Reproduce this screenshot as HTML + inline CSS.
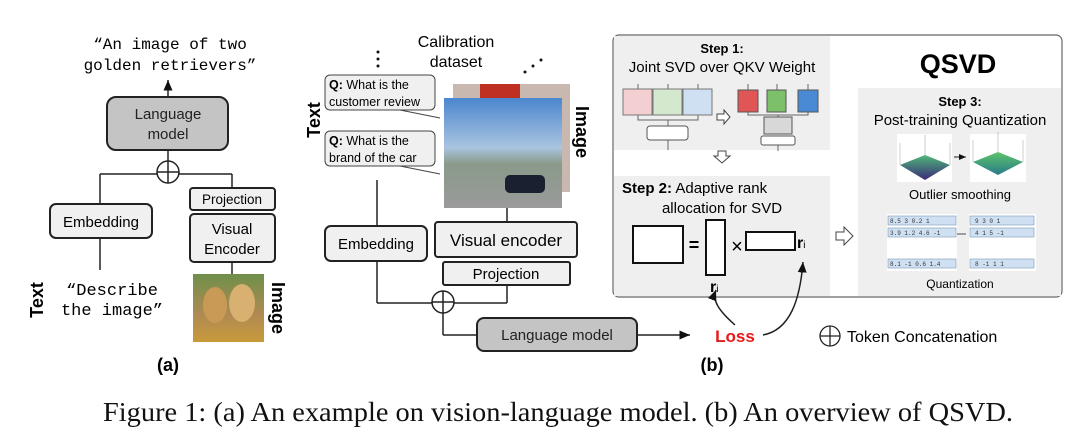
<!DOCTYPE html>
<html><head><meta charset="utf-8"><style>
html,body{margin:0;padding:0;background:#fff;}
svg{display:block;}
.s{font-family:"Liberation Sans",sans-serif;}
.m{font-family:"Liberation Mono",monospace;}
</style></head><body>
<svg width="1080" height="438" viewBox="0 0 1080 438" xmlns="http://www.w3.org/2000/svg">
<defs>
<marker id="ah" markerWidth="8" markerHeight="8" refX="7" refY="4" orient="auto"><path d="M0,1 L7,4 L0,7 z" fill="#111"/></marker>
<linearGradient id="dog" x1="0" y1="0" x2="0" y2="1"><stop offset="0" stop-color="#6f8f4a"/><stop offset="0.6" stop-color="#b08a52"/><stop offset="1" stop-color="#c89a3a"/></linearGradient>
<linearGradient id="sky" x1="0" y1="0" x2="0" y2="1"><stop offset="0" stop-color="#4b86cf"/><stop offset="0.45" stop-color="#a9c4e0"/><stop offset="0.6" stop-color="#8a9a8a"/><stop offset="1" stop-color="#9a9a9a"/></linearGradient>
<linearGradient id="surf1" x1="0" y1="0" x2="0" y2="1"><stop offset="0" stop-color="#4fb87a"/><stop offset="1" stop-color="#3a2a78"/></linearGradient>
<linearGradient id="surf2" x1="0" y1="0" x2="0" y2="1"><stop offset="0" stop-color="#5cc46a"/><stop offset="1" stop-color="#2a7a8a"/></linearGradient>
</defs>
<g stroke="#222" stroke-width="1.5" fill="none">
<line x1="168" y1="97" x2="168" y2="80" marker-end="url(#ah)"/>
<line x1="168" y1="150" x2="168" y2="162"/>
<line x1="100" y1="174" x2="232" y2="174"/>
<line x1="100" y1="174" x2="100" y2="204"/>
<line x1="232" y1="174" x2="232" y2="188"/>
<line x1="100" y1="238" x2="100" y2="270"/>
<line x1="232" y1="262" x2="232" y2="274"/>
<circle cx="168" cy="172" r="11" fill="#fff"/>
<line x1="157" y1="172" x2="179" y2="172"/><line x1="168" y1="161" x2="168" y2="183"/>
<line x1="377" y1="180" x2="377" y2="226"/>
<line x1="507" y1="208" x2="507" y2="222"/>
<line x1="377" y1="261" x2="377" y2="303"/>
<line x1="377" y1="303" x2="507" y2="303"/>
<line x1="507" y1="285" x2="507" y2="303"/>
<line x1="443" y1="303" x2="443" y2="335"/>
<line x1="443" y1="335" x2="477" y2="335"/>
<circle cx="443" cy="302" r="11" fill="#fff"/>
<line x1="432" y1="302" x2="454" y2="302"/><line x1="443" y1="291" x2="443" y2="313"/>
<line x1="638" y1="335" x2="690" y2="335" marker-end="url(#ah)"/>
</g>
<rect x="107" y="97" width="121" height="53" rx="9" fill="#c4c4c4" stroke="#222" stroke-width="2"/>
<text x="168" y="119" class="s" font-size="15" text-anchor="middle" fill="#222">Language</text>
<text x="168" y="139" class="s" font-size="15" text-anchor="middle" fill="#222">model</text>
<rect x="50" y="204" width="102" height="34" rx="6" fill="#f0f0f0" stroke="#222" stroke-width="2"/>
<text x="101" y="227" class="s" font-size="15" text-anchor="middle">Embedding</text>
<rect x="190" y="188" width="85" height="22" rx="3" fill="#f0f0f0" stroke="#222" stroke-width="2"/>
<text x="232" y="204" class="s" font-size="13.5" text-anchor="middle">Projection</text>
<rect x="190" y="214" width="85" height="48" rx="4" fill="#f0f0f0" stroke="#222" stroke-width="2"/>
<text x="232" y="234" class="s" font-size="15" text-anchor="middle">Visual</text>
<text x="232" y="254" class="s" font-size="15" text-anchor="middle">Encoder</text>
<text x="170" y="49" class="m" font-size="16" text-anchor="middle">“An image of two</text>
<text x="170" y="70" class="m" font-size="16" text-anchor="middle">golden retrievers”</text>
<text x="112" y="295" class="m" font-size="17" text-anchor="middle">“Describe</text>
<text x="112" y="315" class="m" font-size="17" text-anchor="middle">the image”</text>
<text transform="translate(43,300) rotate(-90)" class="s" font-size="18" font-weight="bold" text-anchor="middle">Text</text>
<rect x="193" y="274" width="71" height="68" fill="url(#dog)"/>
<ellipse cx="215" cy="305" rx="12" ry="18" fill="#c99a55"/><ellipse cx="242" cy="303" rx="13" ry="19" fill="#d8b070"/>
<text transform="translate(272,308) rotate(90)" class="s" font-size="18" font-weight="bold" text-anchor="middle">Image</text>
<text x="168" y="371" class="s" font-size="18" font-weight="bold" text-anchor="middle">(a)</text>
<text x="456" y="47" class="s" font-size="16" text-anchor="middle">Calibration</text>
<text x="456" y="67" class="s" font-size="16" text-anchor="middle">dataset</text>
<g fill="#111"><circle cx="378" cy="52" r="1.5"/><circle cx="378" cy="59" r="1.5"/><circle cx="378" cy="66" r="1.5"/>
<circle cx="525" cy="72" r="1.5"/><circle cx="533" cy="66" r="1.5"/><circle cx="541" cy="60" r="1.5"/></g>
<path d="M330,75 h100 a5,5 0 0 1 5,5 v25 a5,5 0 0 1 -5,5 h-100 a5,5 0 0 1 -5,-5 v-25 a5,5 0 0 1 5,-5z M400,110 L440,118" fill="#f0f0f0" stroke="#444" stroke-width="1"/>
<text x="329" y="89" class="s" font-size="12.5"><tspan font-weight="bold">Q:</tspan> What is the</text>
<text x="329" y="106" class="s" font-size="12.5">customer review</text>
<path d="M330,131 h100 a5,5 0 0 1 5,5 v25 a5,5 0 0 1 -5,5 h-100 a5,5 0 0 1 -5,-5 v-25 a5,5 0 0 1 5,-5z M400,166 L440,174" fill="#f0f0f0" stroke="#444" stroke-width="1"/>
<text x="329" y="145" class="s" font-size="12.5"><tspan font-weight="bold">Q:</tspan> What is the</text>
<text x="329" y="162" class="s" font-size="12.5">brand of the car</text>
<text transform="translate(320,120) rotate(-90)" class="s" font-size="18" font-weight="bold" text-anchor="middle">Text</text>
<rect x="453" y="84" width="117" height="108" fill="#c8b8b0"/>
<rect x="480" y="84" width="40" height="14" fill="#c03020"/>
<rect x="444" y="98" width="118" height="110" fill="url(#sky)"/>
<rect x="505" y="175" width="40" height="18" rx="5" fill="#1a2030"/>
<text transform="translate(576,132) rotate(90)" class="s" font-size="18" font-weight="bold" text-anchor="middle">Image</text>
<rect x="325" y="226" width="102" height="35" rx="6" fill="#f0f0f0" stroke="#222" stroke-width="2"/>
<text x="376" y="249" class="s" font-size="15" text-anchor="middle">Embedding</text>
<rect x="435" y="222" width="142" height="35" rx="3" fill="#f0f0f0" stroke="#222" stroke-width="2"/>
<text x="506" y="246" class="s" font-size="17" text-anchor="middle">Visual encoder</text>
<rect x="443" y="262" width="127" height="23" rx="2" fill="#f0f0f0" stroke="#222" stroke-width="2"/>
<text x="506" y="279" class="s" font-size="15" text-anchor="middle">Projection</text>
<rect x="477" y="318" width="160" height="33" rx="7" fill="#c4c4c4" stroke="#222" stroke-width="2"/>
<text x="557" y="340" class="s" font-size="15" text-anchor="middle" fill="#222">Language model</text>
<text x="735" y="342" class="s" font-size="17" font-weight="bold" fill="#e81818" text-anchor="middle">Loss</text>
<text x="712" y="371" class="s" font-size="18" font-weight="bold" text-anchor="middle">(b)</text>
<g stroke="#222" stroke-width="1.3" fill="none"><circle cx="830" cy="336" r="10"/><line x1="820" y1="336" x2="840" y2="336"/><line x1="830" y1="326" x2="830" y2="346"/></g>
<text x="847" y="342" class="s" font-size="16">Token Concatenation</text>
<rect x="613" y="35" width="449" height="262" rx="6" fill="#fff" stroke="#666" stroke-width="1.2"/>
<rect x="614" y="36" width="216" height="114" fill="#efefef"/>
<rect x="614" y="176" width="216" height="120" fill="#efefef"/>
<rect x="858" y="88" width="203" height="208" fill="#efefef"/>
<g stroke="#222" stroke-width="1.5" fill="none">
<path d="M735,325 C718,310 712,300 716,290" marker-end="url(#ah)"/>
<path d="M763,335 C790,330 800,300 803,262" marker-end="url(#ah)"/>
</g>
<text x="722" y="53" class="s" font-size="13" font-weight="bold" text-anchor="middle">Step 1:</text>
<text x="722" y="72" class="s" font-size="15" text-anchor="middle">Joint SVD over QKV Weight</text>
<g stroke="#666" stroke-width="1" fill="none">
<line x1="638" y1="84" x2="638" y2="89"/><line x1="668" y1="84" x2="668" y2="89"/><line x1="698" y1="84" x2="698" y2="89"/>
<path d="M638,115 v5 h60 v-5 M668,120 v6 M668,140 v10"/>
<line x1="748" y1="84" x2="748" y2="90"/><line x1="777" y1="84" x2="777" y2="90"/><line x1="808" y1="84" x2="808" y2="90"/>
<path d="M748,112 v3 h60 v-3 M778,115 v2 M778,145 v6"/>
</g>
<rect x="623" y="89" width="29" height="26" fill="#f4cfd2" stroke="#777"/>
<rect x="653" y="89" width="29" height="26" fill="#d3e8cc" stroke="#777"/>
<rect x="683" y="89" width="29" height="26" fill="#cfe0f2" stroke="#777"/>
<rect x="647" y="126" width="41" height="14" rx="3" fill="#fff" stroke="#555"/>
<rect x="738" y="90" width="20" height="22" fill="#e05555" stroke="#555"/>
<rect x="767" y="90" width="19" height="22" fill="#7dc06a" stroke="#555"/>
<rect x="798" y="90" width="20" height="22" fill="#4a8ad4" stroke="#555"/>
<rect x="764" y="117" width="28" height="17" fill="#d8d8d8" stroke="#555"/>
<rect x="761" y="136" width="34" height="9" rx="2" fill="#fff" stroke="#555"/>
<path d="M717,114 h7 v-4 l6,7 l-6,7 v-4 h-7z" fill="#fff" stroke="#444"/>
<path d="M718,156 v-5 h8 v5 h4 l-8,7 l-8,-7z" fill="#fff" stroke="#444"/>
<text x="622" y="193" class="s" font-size="15"><tspan font-weight="bold">Step 2:</tspan> Adaptive rank</text>
<text x="722" y="213" class="s" font-size="15" text-anchor="middle">allocation for SVD</text>
<rect x="633" y="226" width="50" height="37" fill="#fff" stroke="#111" stroke-width="2"/>
<text x="694" y="251" class="s" font-size="18" font-weight="bold" text-anchor="middle">=</text>
<rect x="706" y="220" width="19" height="55" fill="#fff" stroke="#111" stroke-width="2"/>
<text x="737" y="253" class="s" font-size="20" text-anchor="middle">×</text>
<rect x="746" y="232" width="49" height="18" fill="#fff" stroke="#111" stroke-width="2"/>
<text x="797" y="248" class="s" font-size="16" font-weight="bold">r<tspan font-size="10" font-weight="normal">i</tspan></text>
<text x="710" y="292" class="s" font-size="16" font-weight="bold">r<tspan font-size="10" font-weight="normal">i</tspan></text>
<path d="M836,232 h8 v-5 l9,9 l-9,9 v-5 h-8z" fill="#fff" stroke="#444"/>
<text x="958" y="73" class="s" font-size="27" font-weight="bold" text-anchor="middle">QSVD</text>
<text x="960" y="106" class="s" font-size="13" font-weight="bold" text-anchor="middle">Step 3:</text>
<text x="960" y="125" class="s" font-size="15" text-anchor="middle">Post-training Quantization</text>
<rect x="897" y="134" width="55" height="48" fill="#fff"/>
<path d="M900,165 L925,155 L950,165 L925,180z" fill="url(#surf1)"/>
<path d="M900,165 v-22 M950,165 v-22 M925,155 v-20" stroke="#bbb" stroke-width="0.7"/>
<rect x="970" y="134" width="56" height="48" fill="#fff"/>
<path d="M973,162 L998,152 L1023,162 L998,175z" fill="url(#surf2)"/>
<path d="M973,162 v-22 M1023,162 v-22 M998,152 v-20" stroke="#bbb" stroke-width="0.7"/>
<line x1="954" y1="157" x2="966" y2="157" stroke="#222" marker-end="url(#ah)"/>
<text x="960" y="199" class="s" font-size="13" text-anchor="middle">Outlier smoothing</text>
<g fill="#fff"><rect x="887" y="214" width="70" height="57"/><rect x="969" y="214" width="67" height="57"/></g>
<g fill="#cfe0f2" stroke="#7a9ab8" stroke-width="0.6">
<rect x="888" y="216" width="68" height="9"/><rect x="888" y="228" width="68" height="9"/><rect x="888" y="259" width="68" height="9"/>
<rect x="970" y="216" width="64" height="9"/><rect x="970" y="228" width="64" height="9"/><rect x="970" y="259" width="64" height="9"/>
</g>
<g class="m" font-size="6" fill="#333">
<text x="890" y="223">8.5  3  0.2  1</text><text x="890" y="235">3.9 1.2 4.6 -1</text><text x="890" y="266">8.1 -1 0.6 1.4</text>
<text x="975" y="223">9   3   0   1</text><text x="975" y="235">4   1   5  -1</text><text x="975" y="266">8  -1   1   1</text>
</g>
<line x1="957" y1="234" x2="966" y2="234" stroke="#222" stroke-width="0.8"/>
<text x="960" y="288" class="s" font-size="12" text-anchor="middle">Quantization</text>
<text x="103" y="421" font-family="Liberation Serif,serif" font-size="27" textLength="910" lengthAdjust="spacingAndGlyphs" fill="#111">Figure 1: (a) An example on vision-language model. (b) An overview of QSVD.</text>
</svg>
</body></html>
